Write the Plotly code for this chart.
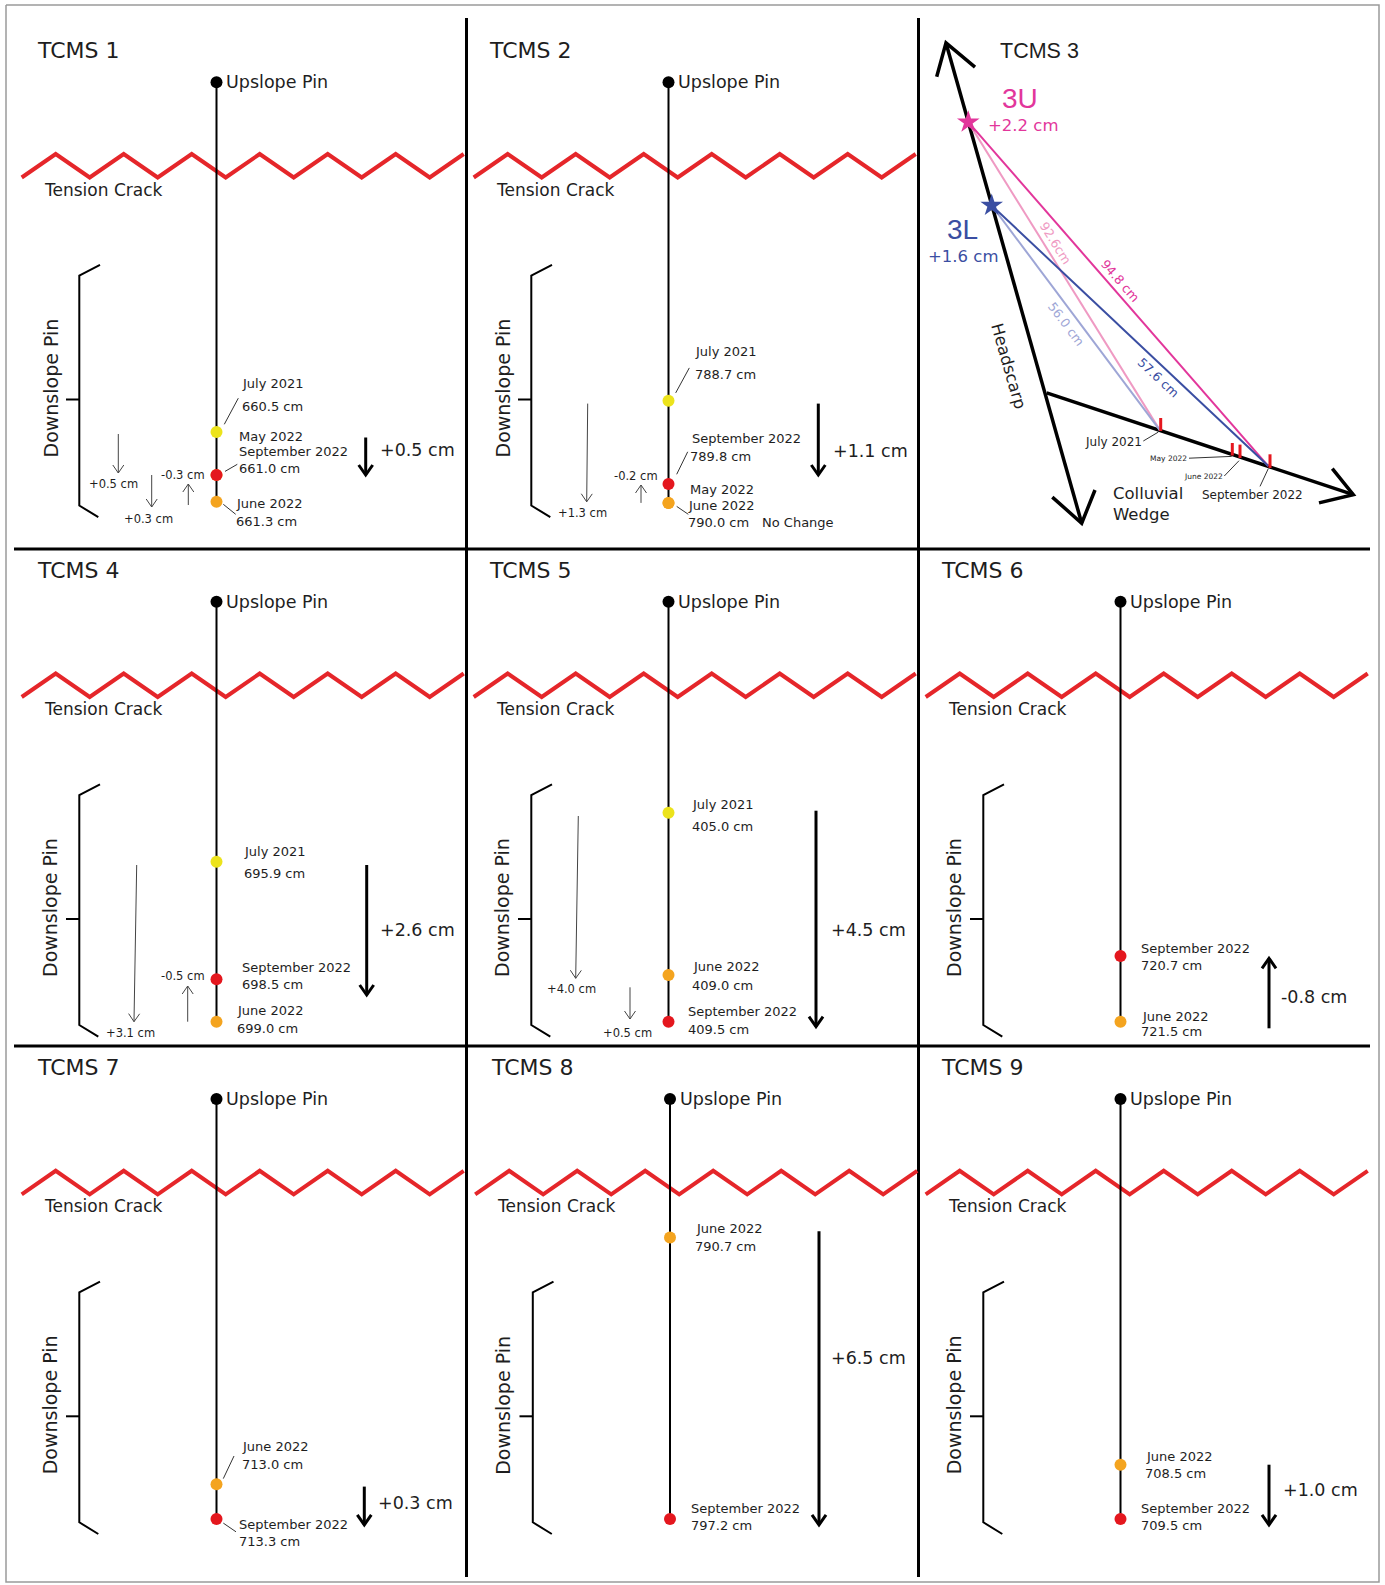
import plotly.graph_objects as go

W, H = 1385, 1585
SANS = "DejaVu Sans, Verdana, sans-serif"
ARIAL = "Liberation Sans, Arial, sans-serif"
INK = "#1e1e1e"

# ---------------- data ----------------
panel_names = ["TCMS 1", "TCMS 2", "TCMS 3", "TCMS 4", "TCMS 5",
               "TCMS 6", "TCMS 7", "TCMS 8", "TCMS 9"]

tcms1_dates = ["July 2021", "May 2022", "June 2022", "September 2022"]
tcms1_cm = [660.5, 661.0, 661.3, 661.0]
tcms1_steps = [0.5, 0.3, -0.3]

tcms2_dates = ["July 2021", "May 2022", "June 2022", "September 2022"]
tcms2_cm = [788.7, 790.0, 790.0, 789.8]
tcms2_steps = [1.3, -0.2]

tcms4_dates = ["July 2021", "June 2022", "September 2022"]
tcms4_cm = [695.9, 699.0, 698.5]
tcms4_steps = [3.1, -0.5]

tcms5_dates = ["July 2021", "June 2022", "September 2022"]
tcms5_cm = [405.0, 409.0, 409.5]
tcms5_steps = [4.0, 0.5]

tcms6_dates = ["June 2022", "September 2022"]
tcms6_cm = [721.5, 720.7]

tcms7_dates = ["June 2022", "September 2022"]
tcms7_cm = [713.0, 713.3]

tcms8_dates = ["June 2022", "September 2022"]
tcms8_cm = [790.7, 797.2]

tcms9_dates = ["June 2022", "September 2022"]
tcms9_cm = [708.5, 709.5]

net_change_cm = [0.5, 1.1, None, 2.6, 4.5, -0.8, 0.3, 6.5, 1.0]

tcms3_pins = ["3U", "3L"]
tcms3_change_cm = [2.2, 1.6]
tcms3_july_cm = [92.6, 56.0]
tcms3_sept_cm = [94.8, 57.6]
tcms3_dates = ["July 2021", "May 2022", "June 2022", "September 2022"]

# ---------------- styles ----------------
DATE_COLOR = {"July 2021": "#ece31c", "May 2022": "#f4a41f",
              "June 2022": "#f4a41f", "September 2022": "#e4171e"}
CRACK = "#e5262a"
MAGENTA = "#e2369b"
PINK = "#ef9ac3"
BLUE = "#3a4ea2"
LBLUE = "#9ea6d6"


def cm(v, sep=" "):
    return f"{v:.1f}{sep}cm"


def chg(v):
    return f"{v:+.1f} cm"


segs = {}
dots = []
ann = []


def seg(pts, color, width):
    key = (color, width)
    xs, ys = segs.setdefault(key, ([], []))
    for x, y in pts:
        xs.append(x)
        ys.append(y)
    xs.append(None)
    ys.append(None)


def arrow(x0, y0, x1, y1, color, width, hw, hl):
    seg([(x0, y0), (x1, y1)], color, width)
    dx, dy = x1 - x0, y1 - y0
    L = (dx * dx + dy * dy) ** 0.5
    ux, uy = dx / L, dy / L
    nx, ny = -uy, ux
    seg([(x1 - hl * ux + hw * nx, y1 - hl * uy + hw * ny), (x1, y1),
         (x1 - hl * ux - hw * nx, y1 - hl * uy - hw * ny)], color, width)


def txt(x, y, s, size, color=INK, family=SANS, xanchor="left", angle=0):
    ann.append(dict(x=x, y=y, xref="x", yref="y", text=s, showarrow=False,
                    xanchor=xanchor, yanchor="middle", textangle=angle,
                    borderpad=0, borderwidth=0,
                    font=dict(family=family, size=size, color=color)))


# ---------------- frame ----------------
seg([(6, 5), (1379, 5), (1379, 1582), (6, 1582), (6, 5)], "#9a9a9a", 1.5)
for gx in (466.5, 918.5):
    seg([(gx, 18), (gx, 1577)], "#000000", 3)
for gy in (549, 1046):
    seg([(14, gy), (1370, gy)], "#000000", 3)


# ---------------- standard panels ----------------
def panel(name, ox, oy, dates, values, dot_y, labels, leaders, big, big_val,
          small=(), pin_x=216.5):
    X = lambda v: ox + v
    Y = lambda v: oy + v
    txt(X(37), Y(21), name, 22)
    # zigzag tension crack
    zz = [(X(21.7 + 34.0 * i), Y(148.0 if i % 2 == 0 else 124.5)) for i in range(14)]
    seg(zz, CRACK, 4)
    txt(X(43.5), Y(160), "Tension Crack", 17)
    # bracket + downslope label
    seg([(X(100), Y(235.3)), (X(79.3), Y(246)), (X(79.3), Y(476)), (X(98.3), Y(487.7))], "#000000", 2)
    seg([(X(66), Y(370)), (X(79.3), Y(370))], "#000000", 2)
    txt(X(50), Y(359), "Downslope Pin", 19, xanchor="center", angle=-90)
    # pin line
    low = max(dot_y[d] for d in dates)
    seg([(X(pin_x), Y(52.7)), (X(pin_x), Y(low))], "#000000", 2)
    dots.append((X(pin_x), Y(52.7), "#000000"))
    txt(X(pin_x + 9.5), Y(52.5), "Upslope Pin", 17.5)
    order = sorted(range(len(dates)), key=lambda i: 0 if dates[i] == "May 2022" else 1)
    for i in order:
        dots.append((X(pin_x), Y(dot_y[dates[i]]), DATE_COLOR[dates[i]]))
    for s, lx, ly in labels:
        txt(X(lx), Y(ly), s, 13)
    for (a, b), (c, d) in leaders:
        seg([(X(a), Y(b)), (X(c), Y(d))], "#333333", 1)
    bx, b0, b1, lx, ly = big
    arrow(X(bx), Y(b0), X(bx), Y(b1), "#000000", 3, 7, 10)
    txt(X(lx), Y(ly), chg(big_val), 17.5)
    for (x0, y0, x1, y1, lx, ly, v) in small:
        arrow(X(x0), Y(y0), X(x1), Y(y1), "#444444", 1, 5.5, 8)
        txt(X(lx), Y(ly), chg(v), 11.5)


panel(panel_names[0], 0, 29.5, tcms1_dates, tcms1_cm,
      {"July 2021": 402.6, "May 2022": 445.5, "June 2022": 472.3, "September 2022": 445.5},
      [(tcms1_dates[0], 242.3, 353.7), (cm(tcms1_cm[0]), 242.3, 376.5),
       (tcms1_dates[1], 239.3, 406.9), (tcms1_dates[3], 239.3, 422.3), (cm(tcms1_cm[3]), 238.7, 439.1),
       (tcms1_dates[2], 236, 474.1), (cm(tcms1_cm[2]), 236, 491.9)],
      [((224.3, 394.8), (238.3, 368.7)), ((225, 441.9), (237.3, 434.8)), ((223.3, 474.8), (235.7, 484.8))],
      (365.7, 408, 445.5, 380, 420.5), net_change_cm[0],
      [(118.3, 404.5, 118.3, 443.5, 89, 454.5, tcms1_steps[0]),
       (151.7, 445.5, 151.7, 477.5, 124, 489.1, tcms1_steps[1]),
       (188.3, 475.5, 188.3, 454.5, 161.3, 445.5, tcms1_steps[2])])

panel(panel_names[1], 452, 29.5, tcms2_dates, tcms2_cm,
      {"July 2021": 371.2, "May 2022": 473.4, "June 2022": 473.4, "September 2022": 454.5},
      [(tcms2_dates[0], 243, 322.3), (cm(tcms2_cm[0]), 243, 344.5),
       (tcms2_dates[3], 239.7, 409.1), (cm(tcms2_cm[3]), 238, 426.5),
       (tcms2_dates[1], 238, 459.8), (tcms2_dates[2], 236.3, 475.9),
       (cm(tcms2_cm[2]), 236.3, 493), ("No Change", 309.7, 493)],
      [((223.7, 363.4), (237.3, 338.4)), ((224.7, 444.8), (235.7, 422.3)), ((224.7, 476.9), (236.3, 484.8))],
      (366.3, 374.1, 445.5, 380.7, 421.5), net_change_cm[1],
      [(135.7, 374.1, 134.7, 472.3, 106, 483.7, tcms2_steps[0]),
       (189, 473.4, 189, 455.5, 162, 446.2, tcms2_steps[1])])

panel(panel_names[3], 0, 549, tcms4_dates, tcms4_cm,
      {"July 2021": 312.7, "June 2022": 472.7, "September 2022": 430.3},
      [(tcms4_dates[0], 244, 302), (cm(tcms4_cm[0]), 244, 324),
       (tcms4_dates[2], 241.7, 418), (cm(tcms4_cm[2]), 241.7, 435),
       (tcms4_dates[1], 236.7, 461.7), (cm(tcms4_cm[1]), 236.7, 479)],
      [],
      (366.7, 316, 446, 380, 381), net_change_cm[3],
      [(136.7, 316, 134, 472.7, 105.7, 483.7, tcms4_steps[0]),
       (187.7, 472.7, 187.7, 437, 160.7, 427, tcms4_steps[1])])

panel(panel_names[4], 452, 549, tcms5_dates, tcms5_cm,
      {"July 2021": 263.7, "June 2022": 426, "September 2022": 472.7},
      [(tcms5_dates[0], 240.3, 255), (cm(tcms5_cm[0]), 240.3, 277),
       (tcms5_dates[1], 241.3, 417.7), (cm(tcms5_cm[1]), 240.3, 436),
       (tcms5_dates[2], 235.7, 462.7), (cm(tcms5_cm[2]), 235.7, 480)],
      [],
      (364, 261.7, 477.7, 378.7, 381), net_change_cm[4],
      [(126.3, 267, 123.7, 429.3, 95.3, 440.3, tcms5_steps[0]),
       (178, 438.3, 178, 470, 151.3, 483.7, tcms5_steps[1])])

panel(panel_names[5], 904, 549, tcms6_dates, tcms6_cm,
      {"June 2022": 472.7, "September 2022": 407},
      [(tcms6_dates[1], 237, 399.3), (cm(tcms6_cm[1]), 237, 416),
       (tcms6_dates[0], 237.7, 467), (cm(tcms6_cm[0]), 237, 482.7)],
      [],
      (365, 479.3, 409.3, 377, 447.7), net_change_cm[5])

panel(panel_names[6], 0, 1046.3, tcms7_dates, tcms7_cm,
      {"June 2022": 437.9, "September 2022": 472.7},
      [(tcms7_dates[0], 242.3, 399.7), (cm(tcms7_cm[0]), 242.3, 418.4),
       (tcms7_dates[1], 239.3, 477.9), (cm(tcms7_cm[1]), 239.3, 494.9)],
      [((223.3, 432.3), (234, 409.7)), ((223.3, 476.8), (236, 485.5))],
      (364.3, 440.3, 478.6, 378.3, 456.7), net_change_cm[6])

panel(panel_names[7], 453.5, 1046.3, tcms8_dates, tcms8_cm,
      {"June 2022": 191.1, "September 2022": 472.7},
      [(tcms8_dates[0], 242.5, 182.4), (cm(tcms8_cm[0]), 241.8, 200.5),
       (tcms8_dates[1], 237.2, 462.2), (cm(tcms8_cm[1]), 237.2, 479.6)],
      [],
      (365.5, 184.9, 478.6, 377.5, 311.7), net_change_cm[7])

panel(panel_names[8], 904, 1046.3, tcms9_dates, tcms9_cm,
      {"June 2022": 418.5, "September 2022": 472.7},
      [(tcms9_dates[0], 241.7, 409.7), (cm(tcms9_cm[0]), 241, 427.5),
       (tcms9_dates[1], 236.7, 462.2), (cm(tcms9_cm[1]), 236.7, 479.3)],
      [],
      (365, 418.4, 478.6, 379.3, 443.7), net_change_cm[8])

# ---------------- TCMS 3 (headscarp / colluvial wedge) ----------------
txt(1000, 50.7, panel_names[2], 21.5, family=ARIAL)
top_tip, bot_tip = (946, 42.9), (1081.7, 523.2)
seg([top_tip, bot_tip], "#000000", 3.5)
seg([(936.7, 76.8), top_tip, (975, 67.1)], "#000000", 3.5)
seg([(1052.3, 497.1), bot_tip, (1095, 490)], "#000000", 3.5)
wedge0, wedge_tip = (1046.7, 392.9), (1353.3, 494.6)
seg([wedge0, wedge_tip], "#000000", 3.5)
seg([(1332.3, 468.6), wedge_tip, (1319, 502.9)], "#000000", 3.5)

star = {"3U": (968.3, 122.1), "3L": (991.7, 205.4)}
july_pt, sept_pt = (1160, 430.4), (1268.3, 466.1)
seg([star["3U"], july_pt], PINK, 2)
seg([star["3L"], july_pt], LBLUE, 2)
seg([star["3U"], sept_pt], MAGENTA, 2)
seg([star["3L"], sept_pt], BLUE, 2)

for xk, y0, y1 in [(1160.7, 418, 431), (1232.3, 443, 455.5), (1240, 444.6, 458), (1270, 454.3, 468)]:
    seg([(xk, y0), (xk, y1)], "#e5171e", 3)

for a, b in [((1143.3, 441), (1158.3, 432.1)), ((1189, 458.2), (1231.7, 456.4)),
             ((1224.3, 476), (1239, 460.7)), ((1260, 486.4), (1268.3, 468.6))]:
    seg([a, b], "#333333", 1)

txt(1085, 441.8, tcms3_dates[0], 12)
txt(1150, 458.2, tcms3_dates[1], 7.5)
txt(1184.3, 476, tcms3_dates[2], 7.5)
txt(1201.7, 495.4, tcms3_dates[3], 12)
txt(1113.3, 493.6, "Colluvial", 16.5)
txt(1113.3, 514.3, "Wedge", 16.5)
txt(1009, 366, "Headscarp", 16.5, xanchor="center", angle=74)

txt(1055, 242.9, cm(tcms3_july_cm[0], sep=""), 12.5, color=PINK, xanchor="center", angle=58)
txt(1120, 280.4, cm(tcms3_sept_cm[0]), 12.5, color=MAGENTA, xanchor="center", angle=49)
txt(1066.7, 324, cm(tcms3_july_cm[1]), 12.5, color=LBLUE, xanchor="center", angle=53)
txt(1158.3, 377.5, cm(tcms3_sept_cm[1]), 12.5, color=BLUE, xanchor="center", angle=43)

txt(1002.3, 98.2, tcms3_pins[0], 28, color=MAGENTA, family=ARIAL)
txt(988.3, 125, chg(tcms3_change_cm[0]), 16.5, color=MAGENTA)
txt(946.7, 229.5, tcms3_pins[1], 28, color=BLUE, family=ARIAL)
txt(928.3, 256, chg(tcms3_change_cm[1]), 16.5, color=BLUE)

# ---------------- build figure ----------------
fig = go.Figure()
for (color, width), (xs, ys) in segs.items():
    fig.add_trace(go.Scatter(x=xs, y=ys, mode="lines", hoverinfo="skip",
                             line=dict(color=color, width=width), showlegend=False))
fig.add_trace(go.Scatter(x=[d[0] for d in dots], y=[d[1] for d in dots], mode="markers",
                         hoverinfo="skip", showlegend=False,
                         marker=dict(color=[d[2] for d in dots], size=12, opacity=1,
                                     line=dict(width=0))))
fig.add_trace(go.Scatter(x=[star["3U"][0], star["3L"][0]], y=[star["3U"][1], star["3L"][1]],
                         mode="markers", hoverinfo="skip", showlegend=False,
                         marker=dict(symbol="star", size=17, opacity=1, color=[MAGENTA, BLUE],
                                     line=dict(width=0))))

fig.update_layout(
    width=W, height=H, autosize=False,
    margin=dict(l=0, r=0, t=0, b=0, pad=0),
    paper_bgcolor="white", plot_bgcolor="white",
    xaxis=dict(range=[0, W], visible=False, fixedrange=True),
    yaxis=dict(range=[H, 0], visible=False, fixedrange=True),
    annotations=ann, showlegend=False,
)

fig.write_html("out.html", config={"displayModeBar": False},
               post_script="document.body.style.margin='0px';")
